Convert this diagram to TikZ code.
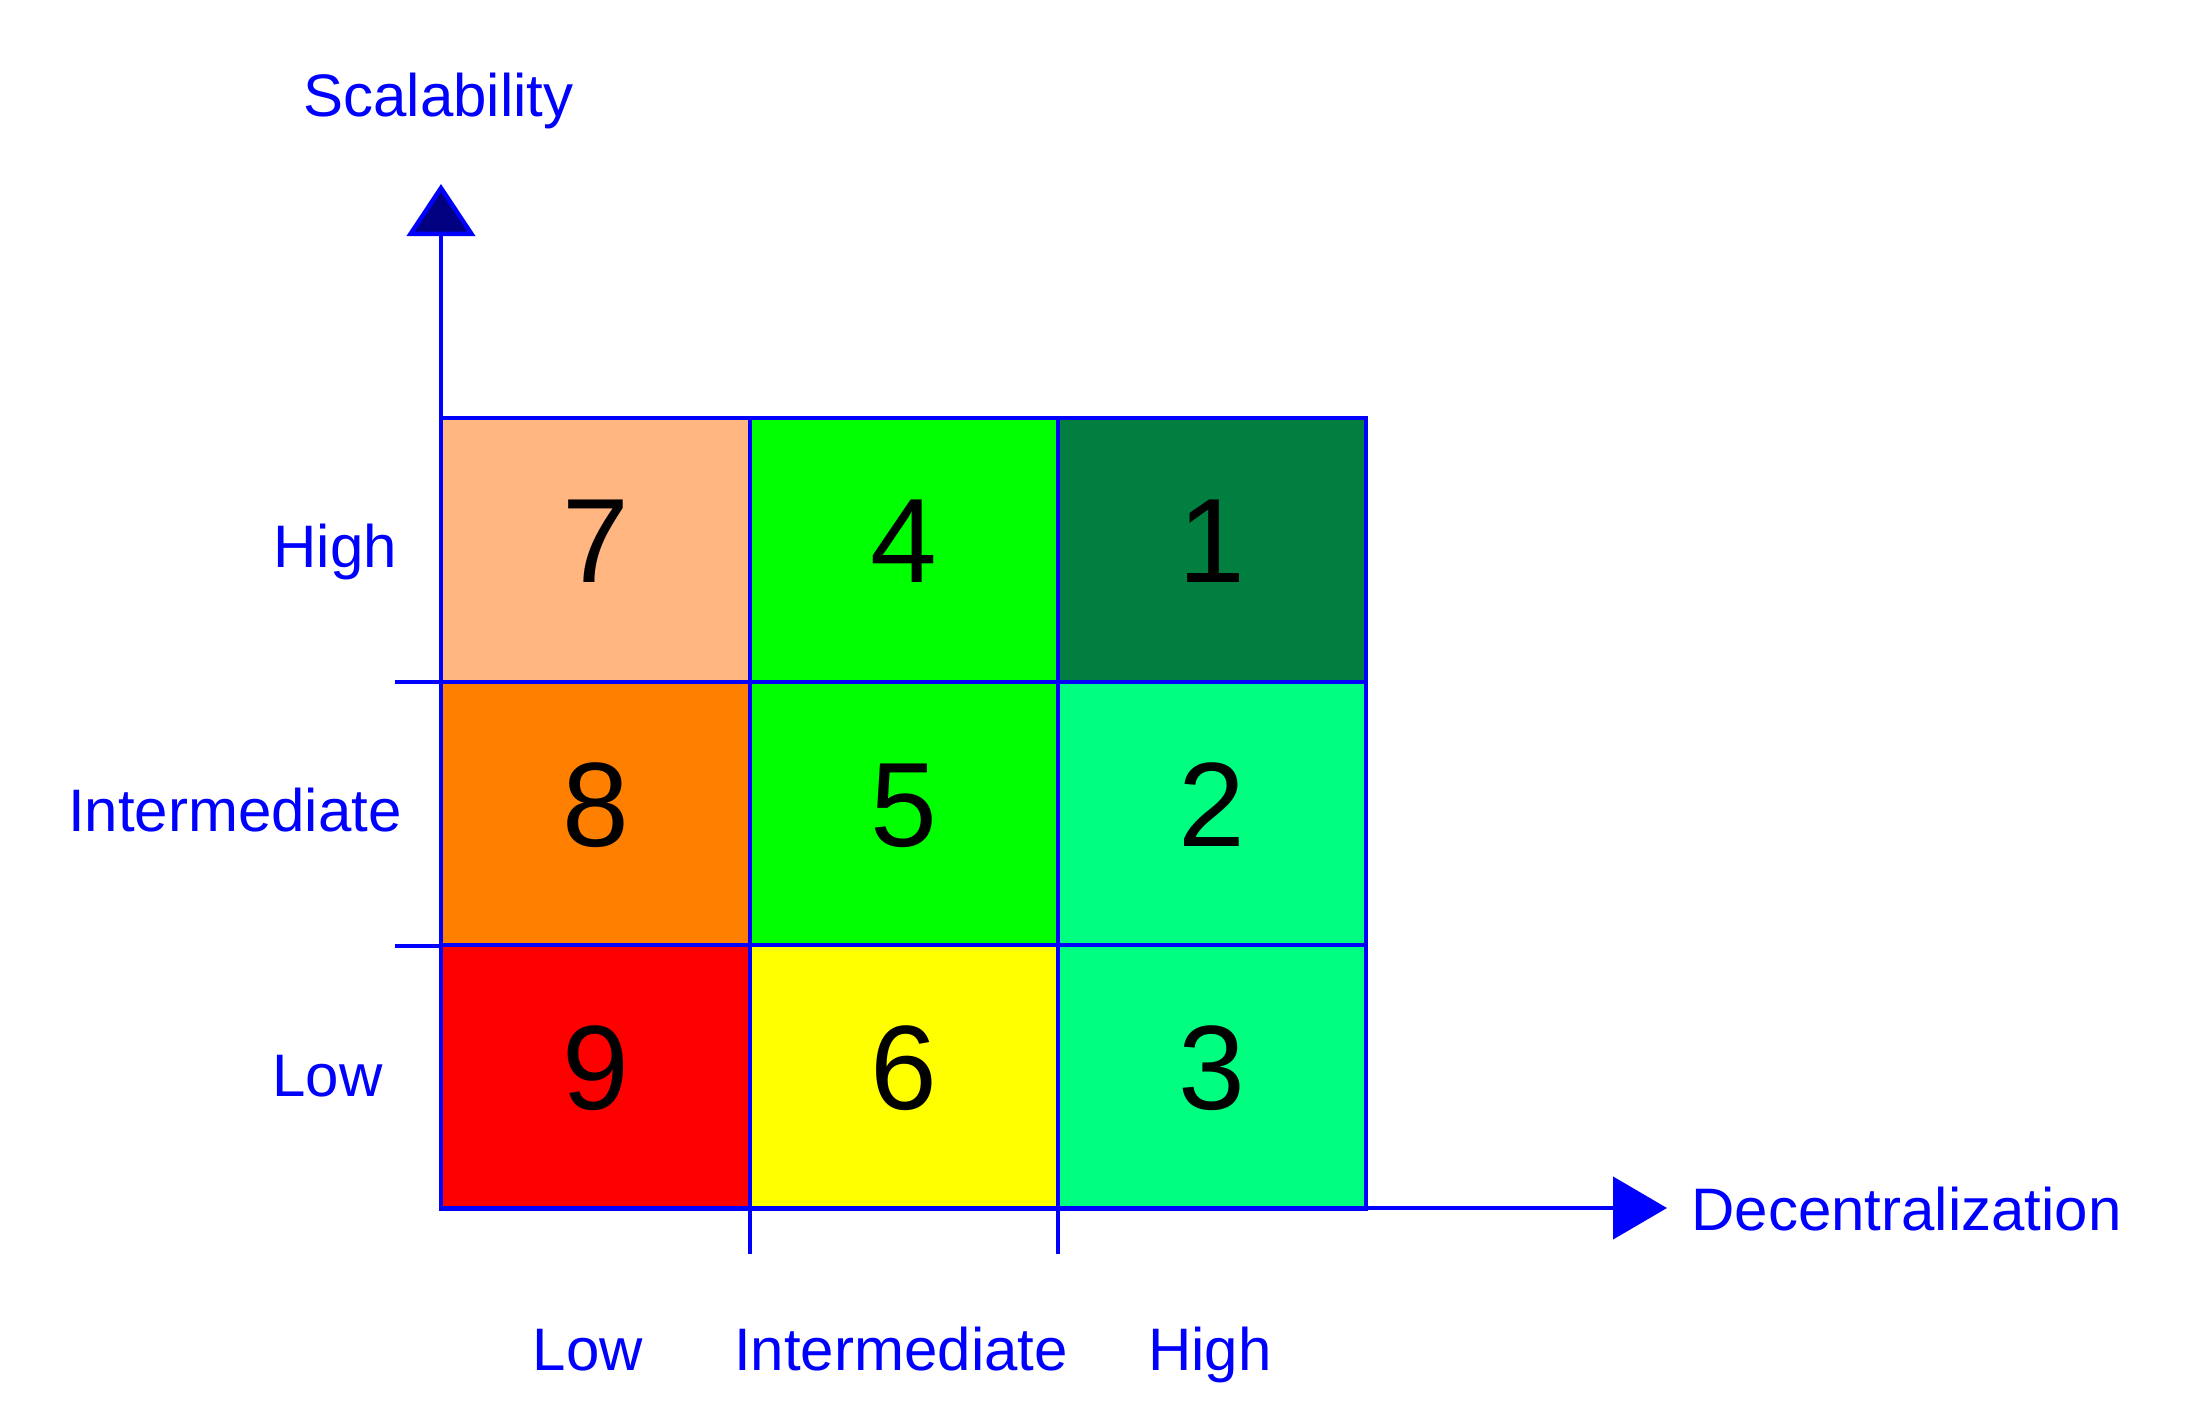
\documentclass[tikz,border=0pt]{standalone}
\usepackage{fontspec}
\setmainfont{Liberation Sans}
\usetikzlibrary{arrows.meta}
\definecolor{axblue}{RGB}{0,0,255}
\definecolor{tipnavy}{RGB}{0,0,128}
\definecolor{cpeach}{RGB}{255,182,128}
\definecolor{cgreen}{RGB}{0,255,0}
\definecolor{cdark}{RGB}{0,127,64}
\definecolor{corange}{RGB}{255,128,0}
\definecolor{cspring}{RGB}{0,255,128}
\definecolor{cred}{RGB}{255,0,0}
\definecolor{cyellow}{RGB}{255,255,0}
\tikzset{
  cell/.style={draw=axblue, line width=2pt, minimum width=154.2pt, minimum height=132pt,
    inner sep=0pt, outer sep=0pt, font=\fontsize{60}{60}\selectfont, text=black,
    text depth=9pt},
  lbl/.style={text=axblue, font=\fontsize{30}{30}\selectfont, inner sep=0pt},
  axisline/.style={draw=axblue, line width=2.2pt},
  tickline/.style={draw=axblue, line width=1.6pt}
}
\begin{document}
\begin{tikzpicture}[x=0.5pt,y=-0.5pt]
\useasboundingbox (0,0) rectangle (2197,1419);
% cells
\node[cell, fill=cpeach] (c7) at (595.5,550) {7};
\node[cell, fill=cgreen] (c4) at (904,550) {4};
\node[cell, fill=cdark] (c1) at (1212,550) {1};
\node[cell, fill=corange] (c8) at (595.5,814) {8};
\node[cell, fill=cgreen] (c5) at (904,814) {5};
\node[cell, fill=cspring] (c2) at (1212,814) {2};
\node[cell, fill=cred] (c9) at (595.5,1077) {9};
\node[cell, fill=cyellow] (c6) at (904,1077) {6};
\node[cell, fill=cspring] (c3) at (1212,1077) {3};
% axes
\coordinate (O) at (441,1208);
\coordinate (ytip) at (441,184);
\coordinate (xtip) at (1667,1208);
\draw[axisline, -{Triangle[length=26pt,width=34pt,fill=tipnavy]}] (O) -- (ytip);
\draw[axisline, -{Triangle[length=27pt,width=31pt,fill=axblue]}] (O) -- (xtip);
% ticks
\coordinate (tl1a) at (395,682); \coordinate (tl1b) at (441,682);
\coordinate (tl2a) at (395,946); \coordinate (tl2b) at (441,946);
\coordinate (tb1a) at (750,1208); \coordinate (tb1b) at (750,1254);
\coordinate (tb2a) at (1058,1208); \coordinate (tb2b) at (1058,1254);
\draw[tickline] (tl1a) -- (tl1b);
\draw[tickline] (tl2a) -- (tl2b);
\draw[tickline] (tb1a) -- (tb1b);
\draw[tickline] (tb2a) -- (tb2b);
% labels
\node[lbl, anchor=base] (ylab) at (438.5,116) {Scalability};
\node[lbl, anchor=base west] (xlab) at (1691,1230) {Decentralization};
\node[lbl, anchor=base west] (yhigh) at (273,567) {High};
\node[lbl, anchor=base east] (yint) at (402,831) {Intermediate};
\node[lbl, anchor=base west] (ylow) at (272,1096) {Low};
\node[lbl, anchor=base] (xlow) at (588,1370) {Low};
\node[lbl, anchor=base] (xint) at (901,1370) {Intermediate};
\node[lbl, anchor=base] (xhigh) at (1210,1370) {High};
\end{tikzpicture}
\end{document}
